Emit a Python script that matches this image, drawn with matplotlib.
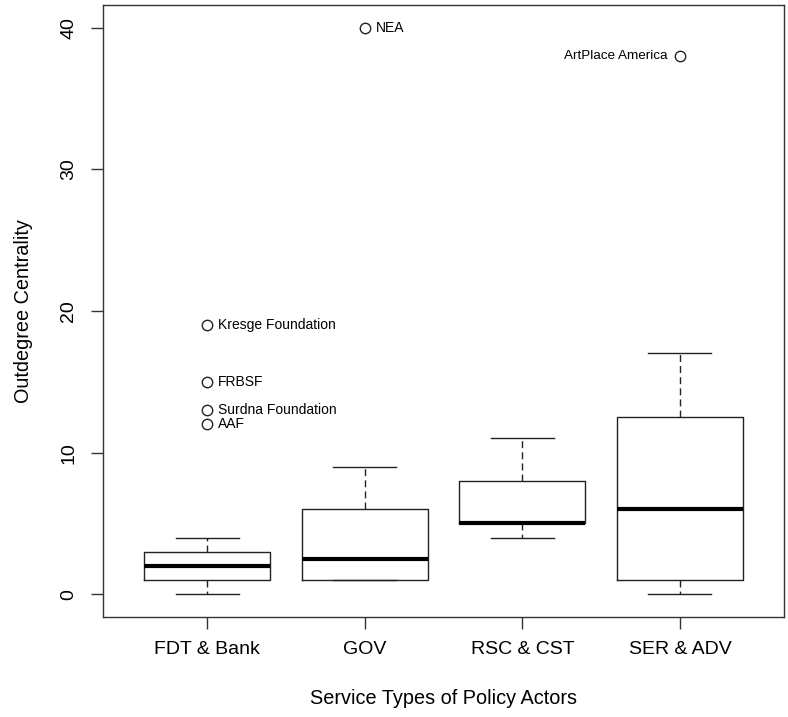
import matplotlib
matplotlib.use("Agg")
import matplotlib.pyplot as plt

categories = ["FDT & Bank", "GOV", "RSC & CST", "SER & ADV"]
whislo = [0, 1, 4, 0]
q1 = [1, 1, 5, 1]
med = [2, 2.5, 5, 6]
q3 = [3, 6, 8, 12.5]
whishi = [4, 9, 11, 17]
outlier_values = [[12, 13, 15, 19], [40], [], [38]]
outlier_labels = [["AAF", "Surdna Foundation", "FRBSF", "Kresge Foundation"], ["NEA"], [], ["ArtPlace America"]]
yticks = [0, 10, 20, 30, 40]

plt.rcParams['font.family'] = ['Liberation Sans', 'DejaVu Sans']

fig = plt.figure(figsize=(7.88, 7.17), dpi=100)
ax = fig.add_axes([103/788, 1 - 617/717, 681/788, 612/717])

stats = []
for i, c in enumerate(categories):
    stats.append(dict(label=c, whislo=whislo[i], q1=q1[i], med=med[i], q3=q3[i],
                      whishi=whishi[i], fliers=[]))

positions = list(range(1, len(categories) + 1))
ax.bxp(stats, positions=positions, widths=0.8, showfliers=False,
       boxprops=dict(color='#222222', linewidth=1.0),
       medianprops=dict(color='black', linewidth=3.0, solid_capstyle='butt'),
       whiskerprops=dict(color='#222222', linewidth=1.0, linestyle=(0, (5, 3))),
       capprops=dict(color='#222222', linewidth=1.0),
       capwidths=0.4)

for i, (vals, labs) in enumerate(zip(outlier_values, outlier_labels)):
    pos = positions[i]
    for v, lab in zip(vals, labs):
        ax.plot([pos], [v], marker='o', markersize=7.5, markerfacecolor='white',
                markeredgecolor='#222222', markeredgewidth=1.0, linestyle='none')
        if i == 3:
            ax.annotate(lab, (pos, v), xytext=(-9, 0), textcoords='offset points',
                        ha='right', va='center', fontsize=9.7)
        else:
            ax.annotate(lab, (pos, v), xytext=(8, 0), textcoords='offset points',
                        ha='left', va='center', fontsize=10)

ax.set_xlim(0.34, 4.66)
ax.set_ylim(-1.6, 41.6)
ax.set_xticks(positions)
ax.set_xticklabels(categories, fontsize=14)
ax.set_yticks(yticks)
ax.set_yticklabels([str(t) for t in yticks], fontsize=14, rotation=90, va='center')
ax.tick_params(axis='both', direction='out', length=8.5, width=1.0, color='#333333')
ax.tick_params(axis='x', pad=9)
ax.tick_params(axis='y', pad=10)
for s in ax.spines.values():
    s.set_linewidth(1.0)
    s.set_color('#333333')

ax.set_xlabel("Service Types of Policy Actors", fontsize=14.3, labelpad=22)
ax.set_ylabel("Outdegree Centrality", fontsize=14.3, labelpad=20)

fig.savefig("out.png", dpi=100)
